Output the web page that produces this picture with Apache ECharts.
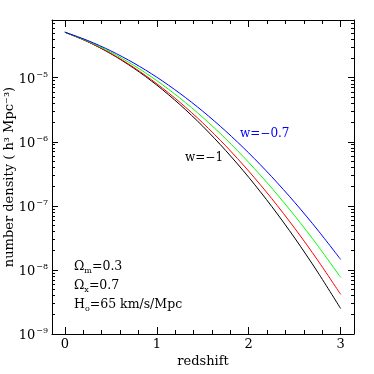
<!DOCTYPE html>
<html>
<head>
<meta charset="utf-8">
<script src="https://cdn.jsdelivr.net/npm/echarts@6/dist/echarts.min.js"></script>
<style>html,body{margin:0;padding:0;background:#fff;}#c{width:374px;height:374px;}</style>
</head>
<body>
<div id="c"></div>
<script>
// redshift grid
const redshift = [0, 0.25, 0.5, 0.75, 1.0, 1.25, 1.5, 1.75, 2.0, 2.25, 2.5, 2.75, 3.0];
// number density (h^3 Mpc^-3) for each w
const wMinus1  = [5.13e-5, 3.64e-5, 2.366e-5, 1.406e-5, 7.66e-6, 3.82e-6, 1.746e-6, 7.29e-7, 2.79e-7, 9.79e-8, 3.15e-8, 9.25e-9, 2.49e-9];
const wMinus09 = [5.13e-5, 3.643e-5, 2.388e-5, 1.443e-5, 8.05e-6, 4.145e-6, 1.968e-6, 8.62e-7, 3.48e-7, 1.299e-7, 4.47e-8, 1.417e-8, 4.15e-9];
const wMinus08 = [5.13e-5, 3.715e-5, 2.495e-5, 1.556e-5, 8.99e-6, 4.83e-6, 2.404e-6, 1.112e-6, 4.76e-7, 1.897e-7, 7.00e-8, 2.399e-8, 7.62e-9];
const wMinus07 = [5.13e-5, 3.797e-5, 2.623e-5, 1.691e-5, 1.018e-5, 5.71e-6, 2.995e-6, 1.465e-6, 6.69e-7, 2.849e-7, 1.132e-7, 4.20e-8, 1.455e-8];

// ticks
const xMajorTicks = [0, 1, 2, 3];
const xMinorTicks = [0.2, 0.4, 0.6, 0.8, 1.2, 1.4, 1.6, 1.8, 2.2, 2.4, 2.6, 2.8];
const yMajorTicks = [1e-9, 1e-8, 1e-7, 1e-6, 1e-5];
const yTickExponents = ['−9', '−8', '−7', '−6', '−5'];
const yMinorMantissa = [2, 3, 4, 5, 6, 7, 8, 9];

const yMinorTicks = [];
yMajorTicks.forEach(d => yMinorMantissa.forEach(m => yMinorTicks.push(m * d)));

const FONT = 'DejaVu Serif';
const X_MIN = -0.14, X_MAX = 3.145;
const Y_MIN = 1e-9, Y_MAX = 7.95e-5;

function pairs(ys) { return redshift.map((z, i) => [z, ys[i]]); }

function xAx(pos, ticks, len, showLine, showLabel) {
  return {
    type: 'value', position: pos, min: X_MIN, max: X_MAX, scale: true,
    splitLine: { show: false },
    axisLine: { show: showLine, onZero: false, lineStyle: { color: '#000', width: 1 } },
    axisTick: { show: true, inside: true, length: len, customValues: ticks, lineStyle: { color: '#000', width: 1 } },
    axisLabel: showLabel ? { show: true, customValues: ticks, margin: 4, color: '#000', fontFamily: FONT, fontSize: 13 } : { show: false },
    name: showLabel ? 'redshift' : '',
    nameLocation: 'middle', nameGap: 21, nameMoveOverlap: false,
    nameTextStyle: { color: '#000', fontFamily: FONT, fontSize: 13 }
  };
}
function yAx(pos, ticks, len, showLine, showLabel) {
  return {
    type: 'log', logBase: 10, position: pos, min: Y_MIN, max: Y_MAX,
    splitLine: { show: false },
    axisLine: { show: showLine, onZero: false, lineStyle: { color: '#000', width: 1 } },
    axisTick: { show: true, inside: true, length: len, customValues: ticks, lineStyle: { color: '#000', width: 1 } },
    axisLabel: showLabel ? {
      show: true, customValues: ticks, margin: 4, color: '#000',
      formatter: function (v) {
        const i = yMajorTicks.findIndex(t => Math.abs(Math.log10(t) - Math.log10(v)) < 1e-6);
        return '{b|10}{s|' + yTickExponents[i] + '}';
      },
      rich: {
        b: { fontFamily: FONT, fontSize: 13, color: '#000', lineHeight: 12, verticalAlign: 'middle', padding: [3, 0, 0, 0] },
        s: { fontFamily: FONT, fontSize: 8, color: '#000', lineHeight: 12, verticalAlign: 'middle', padding: [0, 0, 6, 1] }
      }
    } : { show: false },
    name: showLabel ? 'number density ( h³ Mpc⁻³)' : '',
    nameLocation: 'middle', nameGap: 36, nameRotate: 90, nameMoveOverlap: false,
    nameTextStyle: { color: '#000', fontFamily: FONT, fontSize: 13 }
  };
}

function line(name, data, color) {
  return {
    name: name, type: 'line', xAxisIndex: 0, yAxisIndex: 0,
    data: pairs(data), smooth: 0.3, showSymbol: false, symbol: 'none',
    lineStyle: { color: color, width: 1 }, animation: false
  };
}

const richAnn = {
  t: { fontFamily: FONT, fontSize: 12.5, color: '#000', lineHeight: 15, verticalAlign: 'middle' },
  sub: { fontFamily: FONT, fontSize: 8, color: '#000', lineHeight: 15, verticalAlign: 'bottom' }
};

const chart = echarts.init(document.getElementById('c'), null, { renderer: 'canvas' });
chart.setOption({
  animation: false,
  backgroundColor: '#fff',
  grid: { left: 52, right: 20, top: 20, bottom: 40, containLabel: false, outerBoundsMode: 'none' },
  xAxis: [
    xAx('bottom', xMajorTicks, 7, true, true),
    xAx('bottom', xMinorTicks, 4, false, false),
    xAx('top', xMajorTicks, 7, true, false),
    xAx('top', xMinorTicks, 4, false, false)
  ],
  yAxis: [
    yAx('left', yMajorTicks, 6, true, true),
    yAx('left', yMinorTicks, 3, false, false),
    yAx('right', yMajorTicks, 6, true, false),
    yAx('right', yMinorTicks, 3, false, false)
  ],
  series: [
    line('w=-1', wMinus1, '#000000'),
    line('w=-0.9', wMinus09, '#ff0000'),
    line('w=-0.8', wMinus08, '#00ff00'),
    line('w=-0.7', wMinus07, '#0000ff')
  ],
  graphic: [
    { type: 'text', x: 185, y: 158, style: { text: 'w=−1', fill: '#000', font: '12px "DejaVu Serif"', verticalAlign: 'middle' } },
    { type: 'text', x: 240, y: 134, style: { text: 'w=−0.7', fill: '#0000ff', font: '12px "DejaVu Serif"', verticalAlign: 'middle' } },
    { type: 'text', x: 74, y: 267, style: { text: '{t|Ω}{sub|m}{t|=0.3}', rich: richAnn, verticalAlign: 'middle' } },
    { type: 'text', x: 74, y: 286, style: { text: '{t|Ω}{sub|x}{t|=0.7}', rich: richAnn, verticalAlign: 'middle' } },
    { type: 'text', x: 74, y: 305, style: { text: '{t|H}{sub|o}{t|=65 km/s/Mpc}', rich: richAnn, verticalAlign: 'middle' } }
  ]
});
</script>
</body>
</html>
